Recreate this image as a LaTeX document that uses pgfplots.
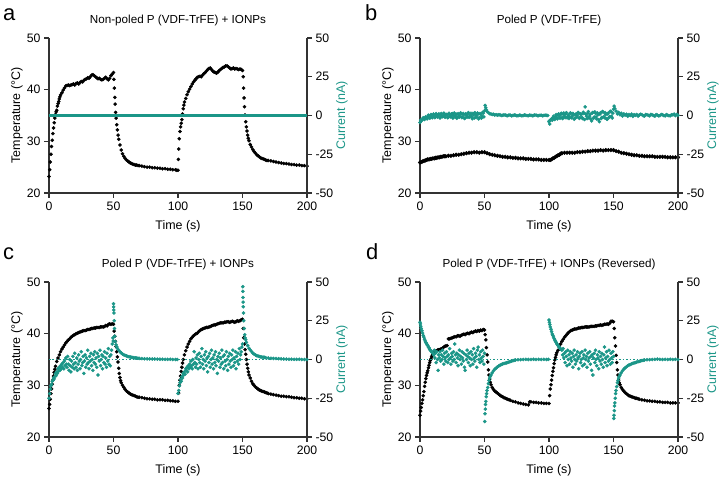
\documentclass[border=0pt]{standalone}
\usepackage{fontspec}
\setmainfont{Liberation Sans}
\usepackage{pgfplots}
\pgfplotsset{compat=1.18}
\definecolor{tl}{RGB}{27,150,136}
\definecolor{axc}{RGB}{50,50,50}
\pgfplotsset{
 base/.style={width=258bp,height=155bp,scale only axis,xmin=0,xmax=200,
  tick align=outside, major tick length=5bp,
  axis line style={axc,line width=1.2bp}, tick style={axc,line width=1.2bp},
  tick label style={font=\fontsize{12.3}{14}\selectfont},
  label style={font=\fontsize{12.5}{14}\selectfont},
  /pgf/number format/assume math mode=true},
 tax/.style={base, ymin=20,ymax=50, axis y line*=left, axis x line*=bottom,
  xtick={0,50,100,150,200}, ytick={20,30,40,50},
  xlabel={Time (s)}, ylabel={Temperature (°C)},
  xlabel style={at={(axis description cs:0.5,-0.213)},anchor=center},
  ylabel style={at={(axis description cs:-0.124,0.5)},anchor=center},
  title style={at={(axis description cs:0.5,1)},anchor=base,yshift=9bp,font=\fontsize{11.7}{13}\selectfont}},
 cax/.style={base, ymin=-50,ymax=50, axis y line*=right, axis x line=none, xtick=\empty,
  ytick={-50,-25,0,25,50}, ylabel={Current (nA)},
  ylabel style={at={(axis description cs:1.135,0.5)},anchor=center,text=tl}},
 tm/.style={only marks, mark=*, mark size=1.6bp, black},
 cm/.style={only marks, mark=*, mark size=1.6bp, tl, mark options={fill=tl,draw=tl}},
}
\begin{document}
\begin{tikzpicture}[x=1bp,y=1bp]
\useasboundingbox (0,0) rectangle (720,477);
\node[anchor=base west,inner sep=0,font=\fontsize{22}{24}\selectfont] at (3,456.3) {a};
\node[anchor=base west,inner sep=0,font=\fontsize{22}{24}\selectfont] at (365,456.3) {b};
\node[anchor=base west,inner sep=0,font=\fontsize{22}{24}\selectfont] at (3,217.3) {c};
\node[anchor=base west,inner sep=0,font=\fontsize{22}{24}\selectfont] at (366,217.3) {d};
% ---------------- panel a ----------------
\begin{axis}[tax, at={(49bp,284bp)}, anchor=south west, title={Non-poled P (VDF-TrFE) + IONPs}]
\addplot[tm] table {
0 23.2
0.5 24.5
1 26.0
1.5 27.5
2 29.0
2.5 30.2
3 31.5
3.5 32.6
4 33.6
4.5 34.5
5 35.2
5.5 35.7
6 36.0
6.5 36.8
7 37.3
7.5 37.7
8 38.2
8.5 38.6
9 39.0
10 39.4
11 39.9
12 40.3
13 40.7
14 40.8
15 40.9
16 40.8
17 40.9
18 41.0
19 41.1
20 40.9
21 41.2
22 41.3
23 41.1
24 41.4
25 41.6
26 41.5
27 41.8
28 42.0
29 42.1
30 42.3
31 42.2
32 42.5
33 42.8
34 42.9
35 42.7
36 42.5
37 42.3
38 42.1
39 42.2
40 42.0
41 41.9
42 42.0
43 42.2
44 42.4
45 42.1
46 41.9
47 42.2
48 42.7
49 43.0
50 43.3
50.3 42.0
50.6 40.3
51 38.5
51.3 37.2
51.6 35.6
52 34.5
52.5 33.2
53 32.2
53.5 31.2
54 30.4
55 29.3
56 28.3
57 27.6
58 27.1
59 26.7
60 26.4
61 26.2
62 26.0
63 25.8
64 25.7
65 25.6
66 25.5
67 25.4
68 25.4
69 25.3
70 25.3
72 25.2
74 25.1
76 25.0
78 25.0
80 24.9
82 24.9
84 24.8
86 24.8
88 24.7
90 24.7
92 24.6
94 24.6
96 24.5
98 24.5
99 24.4
100 24.4
100.3 26.5
100.6 28.5
101 30.5
101.5 31.9
102 32.8
102.5 33.5
103 34.2
103.5 35.3
104 36.3
104.5 37.0
105 37.6
106 38.3
107 39.0
108 39.6
109 40.1
110 40.6
111 41.1
112 41.5
113 41.8
114 42.1
115 42.4
116 42.5
117 42.6
118 42.5
119 42.8
120 43.1
121 43.3
122 43.6
123 43.9
124 44.1
125 44.2
126 43.9
127 43.6
128 43.4
129 43.3
130 43.2
131 43.4
132 43.7
133 43.9
134 44.1
135 44.3
136 44.4
137 44.6
138 44.6
139 44.4
140 44.2
141 44.0
142 44.1
143 44.2
144 44.0
145 44.1
146 44.0
147 43.9
148 44.0
149 43.9
150 43.7
150.5 42.5
150.8 40.3
151.2 38.4
151.5 36.7
152 35.1
152.5 33.8
153 32.8
153.5 32.0
154 31.2
154.5 30.6
155 30.1
156 29.4
157 28.9
158 28.4
159 28.0
160 27.7
161 27.4
162 27.2
163 27.0
164 26.8
165 26.7
166 26.6
167 26.5
168 26.4
169 26.3
170 26.3
172 26.2
174 26.1
176 26.0
178 25.9
180 25.8
182 25.7
184 25.7
186 25.6
188 25.5
190 25.5
192 25.4
194 25.4
196 25.3
198 25.3
200 25.2
};
\end{axis}
\begin{axis}[cax, at={(49bp,284bp)}, anchor=south west]
\addplot[tl, line width=3bp] coordinates {(0,0) (50,0) (100,0) (150,0) (200,0)};
\end{axis}
% ---------------- panel b ----------------
\begin{axis}[tax, at={(420bp,284bp)}, anchor=south west, title={Poled P (VDF-TrFE)}]
\addplot[tm, mark size=1.9bp] table {
0 25.9
1 26.0
2 26.1
3 26.2
4 26.3
5 26.4
6 26.5
7 26.5
8 26.6
9 26.6
10 26.7
11 26.7
12 26.8
13 26.8
14 26.9
15 26.9
16 27.0
17 27.0
18 27.1
19 27.1
20 27.1
22 27.2
24 27.2
26 27.3
28 27.4
30 27.4
32 27.5
34 27.6
36 27.7
38 27.8
40 27.8
42 27.9
44 27.9
46 27.8
48 27.9
50 27.9
52 27.7
54 27.5
56 27.4
58 27.3
60 27.2
62 27.1
64 27.0
66 27.0
68 26.9
70 26.9
72 26.8
74 26.8
76 26.7
78 26.7
80 26.7
82 26.6
84 26.6
86 26.6
88 26.5
90 26.5
92 26.5
94 26.4
96 26.4
98 26.4
100 26.4
101 26.4
102 26.5
103 26.7
104 26.8
105 27.0
106 27.1
107 27.3
108 27.4
109 27.6
110 27.7
112 27.8
114 27.8
116 27.8
118 27.8
120 27.8
122 27.9
124 27.9
126 28.0
128 28.0
130 28.1
132 28.1
134 28.2
136 28.2
138 28.2
140 28.3
142 28.2
144 28.3
146 28.3
148 28.3
150 28.3
152 28.1
154 28.0
156 27.8
158 27.7
160 27.6
162 27.5
164 27.4
166 27.3
168 27.3
170 27.2
172 27.2
174 27.1
176 27.1
178 27.1
180 27.1
182 27.0
184 27.0
186 27.0
188 27.0
190 27.0
192 26.9
194 26.9
196 26.9
198 26.9
200 26.9
};
\end{axis}
\begin{axis}[cax, at={(420bp,284bp)}, anchor=south west]
\addplot[cm] table {
0 -4.5
0.5 -3
1 -3.5
2 -2.5
3 -2
4 -1.8
5 -1.5
6 -1.0
7 -0.5
8 -1.2
9 0.3
10 -0.8
11 0.2
12 -1.0
13 0.5
14 -0.3
15 0.8
16 -0.9
17 0.2
18 -0.5
19 1.0
20 -0.2
21 0.6
22 -1.1
23 0.4
24 -0.6
25 1.2
26 0.0
27 -0.8
28 0.9
29 -1.3
30 0.3
31 -0.4
32 1.1
33 -0.9
34 0.5
35 -1.5
36 0.2
37 0.9
38 -1.2
39 0.4
40 -0.7
41 1.3
42 -1.6
43 0.6
44 -0.3
45 1.0
46 -1.4
47 0.8
48 -0.5
49 1.5
50 3.0
50.5 6.5
51 5.0
51.5 3.5
52 2.5
53 1.8
54 1.2
55 1.0
56 0.6
57 0.8
58 0.3
59 0.5
60 0.2
61 0.5
62 0.4
63 0.0
64 0.1
65 0.4
66 0.3
67 0.0
68 -0.1
69 0.3
70 0.2
71 -0.2
72 0.0
73 0.3
74 0.2
75 -0.1
76 -0.2
77 0.2
78 0.1
79 -0.2
80 0.0
81 0.3
82 0.2
83 -0.1
84 -0.1
85 0.2
86 0.1
87 -0.2
88 0.0
89 0.3
90 0.2
91 -0.1
92 -0.1
93 0.2
94 0.1
95 -0.2
96 0.0
97 0.2
98 0.1
99 0.0
100 -4.0
100.5 -5.5
101 -3.0
102 -2.2
103 -1.5
104 -2.0
105 -0.8
106 -1.5
107 0.3
108 -1.0
109 0.5
110 -1.3
111 0.8
112 -0.6
113 1.0
114 -1.5
115 0.4
116 -0.9
117 1.2
118 -0.4
119 0.7
120 -1.8
121 1.0
122 -0.2
123 1.5
124 -1.2
125 0.6
126 -2.0
127 1.3
128 5.5
129 -0.5
130 1.4
131 -1.6
132 0.8
133 -3.5
134 2.0
135 -1.0
136 1.5
137 -2.2
138 0.5
139 -4.0
140 1.8
141 -1.2
142 2.2
143 -1.5
144 0.6
145 -2.5
146 1.6
147 -0.8
148 2.4
149 -1.6
150 4.0
150.5 6.0
151 4.5
152 2.8
153 1.0
154 2.0
155 0.5
156 1.4
157 -0.3
158 1.0
159 0.2
160 0.8
161 -0.5
162 0.6
163 0.0
164 0.9
165 -0.6
166 0.5
167 0.1
168 0.7
169 -0.4
170 0.3
171 0.8
172 0.6
173 -0.2
174 -0.3
175 0.6
176 0.5
177 0.1
178 -0.2
179 0.7
180 0.4
181 0.0
182 -0.4
183 0.6
184 0.3
185 -0.2
186 -0.1
187 0.7
188 0.5
189 0.0
190 -0.3
191 0.6
192 0.2
193 -0.1
194 -0.2
195 0.5
196 0.4
197 0.9
198 -0.1
199 0.6
200 0.2
};
\addplot[cm] table {
1.5 -2.8
2.5 -1.5
3.5 -2.6
4.5 -0.8
5.5 -2.2
6.5 0.2
7.5 -1.8
8.5 0.6
9.5 -1.5
10.5 1.0
11.5 -1.4
12.5 1.2
13.5 -1.0
14.5 0.9
15.5 -1.6
16.5 1.3
17.5 -0.8
18.5 1.5
19.5 -1.2
20.5 0.7
21.5 -1.5
22.5 1.4
23.5 -0.9
24.5 1.0
25.5 -1.7
26.5 1.6
27.5 -0.3
28.5 -1.8
29.5 1.2
30.5 -1.0
31.5 1.7
32.5 -1.4
33.5 1.3
34.5 -2.0
35.5 1.1
36.5 -1.1
37.5 1.9
38.5 -0.6
39.5 1.4
40.5 -2.1
41.5 0.5
42.5 1.8
43.5 -1.3
44.5 1.6
45.5 -2.2
46.5 1.2
47.5 -1.7
48.5 2.0
49.5 -0.9
100.2 -3.5
101.5 -2.6
102.5 -3.0
103.5 -0.5
104.5 -2.6
105.5 0.6
106.5 -2.2
107.5 1.0
108.5 -1.8
109.5 1.4
110.5 -2.0
111.5 1.6
112.5 -1.4
113.5 1.8
114.5 -0.6
115.5 -2.0
116.5 1.7
117.5 -1.5
118.5 1.3
119.5 -2.4
120.5 0.4
121.5 -1.1
122.5 2.0
123.5 -1.9
124.5 1.1
125.5 -1.3
126.5 2.1
127.5 -2.6
128.5 1.0
129.5 -2.0
130.5 2.5
131.5 -0.4
132.5 -2.3
133.5 1.6
134.5 -1.8
135.5 2.3
136.5 -0.9
137.5 1.7
138.5 -2.7
139.5 0.9
140.5 -1.9
141.5 2.6
142.5 -0.7
143.5 1.9
144.5 -2.0
145.5 1.0
146.5 -1.3
147.5 2.7
148.5 -0.5
149.5 1.5
};
\end{axis}
% ---------------- panel c ----------------
\begin{axis}[tax, at={(49bp,40bp)}, anchor=south west, title={Poled P (VDF-TrFE) + IONPs}]
\addplot[tm] table {
0 25.5
0.5 26.3
1 27.3
1.5 28.4
2 29.3
2.5 30.2
3 31.0
3.5 31.8
4 32.5
4.5 33.1
5 33.7
6 34.6
7 35.3
8 35.9
9 36.5
10 37.0
11 37.4
12 37.8
13 38.2
14 38.5
15 38.8
16 39.0
17 39.3
18 39.5
19 39.7
20 39.8
21 40.0
22 40.1
23 40.2
24 40.3
25 40.4
26 40.5
27 40.6
28 40.6
29 40.7
30 40.8
31 40.8
32 40.9
33 41.0
34 41.0
35 41.1
36 41.1
37 41.2
38 41.2
39 41.2
40 41.3
41 41.3
42 41.3
43 41.4
44 41.6
45 41.5
46 41.8
47 41.9
48 41.8
49 41.9
50 41.8
50.5 40.5
51 39.5
51.5 38.5
52 37.5
52.5 36.5
53 35.5
53.5 34.5
54 33.3
54.5 32.3
55 31.5
55.5 30.9
56 30.5
57 30.0
58 29.6
59 29.2
60 28.9
61 28.7
62 28.5
63 28.3
64 28.2
65 28.1
66 28.0
67 27.9
68 27.8
69 27.7
70 27.7
72 27.6
74 27.5
76 27.4
78 27.4
80 27.3
82 27.3
84 27.2
86 27.2
88 27.2
90 27.1
92 27.1
94 27.0
96 27.0
98 26.9
100 26.9
100.5 28.5
101 30.0
101.5 31.0
102 31.8
102.5 32.7
103 33.5
103.5 34.3
104 35.0
105 35.9
106 36.7
107 37.4
108 38.0
109 38.5
110 39.0
111 39.3
112 39.6
113 39.8
114 40.0
115 40.1
116 40.4
117 40.6
118 40.8
119 40.9
120 41.0
121 41.1
122 41.2
123 41.2
124 41.3
125 41.4
126 41.5
127 41.6
128 41.7
129 41.7
130 41.8
131 41.9
132 42.0
133 42.1
134 42.1
135 42.1
136 42.2
137 42.2
138 42.3
139 42.3
140 42.2
141 42.3
142 42.4
143 42.3
144 42.2
145 42.3
146 42.5
147 42.4
148 42.5
149 42.7
150 42.8
150.5 41.0
151 39.2
151.5 38.0
152 36.9
152.5 36.0
153 35.0
153.5 34.1
154 33.3
154.5 32.6
155 32.0
156 31.4
157 30.8
158 30.3
159 30.0
160 29.7
161 29.5
162 29.3
163 29.1
164 29.0
165 28.9
166 28.8
167 28.7
168 28.6
169 28.5
170 28.4
172 28.3
174 28.2
176 28.1
178 28.0
180 27.9
182 27.9
184 27.8
186 27.8
188 27.7
190 27.6
192 27.6
194 27.5
196 27.5
198 27.4
200 27.4
};
\end{axis}
\begin{axis}[cax, at={(49bp,40bp)}, anchor=south west]
\addplot[tl, dotted, line width=1.5bp] coordinates {(0,0) (200,0)};
\addplot[cm] table {
0 -25
0.5 -22
1 -19
1.5 -17
2 -16
2.5 -14
3 -13.5
3.5 -12
4 -12.5
4.5 -11
5 -9
5.5 -10.5
6 -8
6.5 -9
7 -6
7.5 -7.5
8 -5
8.5 -7
9 -4
9.5 -6
10 -3
10.5 -5
11 -2
11.5 -6
12 -1
12.5 -4
13 1
13.5 -3
14 -5
14.5 2
15 -3
15.5 -7
16 0
16.5 -4
17 -8
17.5 -1
18 -5
18.5 2
19 -3
19.5 -6
20 4
20.5 -2
21 -5
21.5 1
22 -7
22.5 -3
23 3
23.5 -1
24 -6
24.5 0
25 5
25.5 -4
26 -2
26.5 2
27 -9
27.5 -1
28 3
28.5 -5
29 1
29.5 -3
30 6
30.5 -2
31 -6
31.5 2
32 -1
32.5 4
33 -4
33.5 0
34 -7
34.5 3
35 -2
35.5 5
36 -3
36.5 1
37 -5
37.5 4
38 -10
38.5 2
39 -1
39.5 6
40 -4
40.5 0
41 3
41.5 -6
42 2
42.5 -2
43 5
43.5 -3
44 1
44.5 -5
45 4
45.5 -1
46 7
46.5 -3
47 2
47.5 -4
48 3
48.5 6
49 10
49.5 14
49.8 12
50 36
50.1 34
50.2 32
50.3 30
50.5 25
50.7 20
51 15
51.4 11.6
52 9.5
52.5 8.2
53 7.2
54 6.0
55 5.0
56 4.2
57 3.5
58 3.0
59 2.6
60 2.3
61 2.0
62 1.8
63 1.6
64 1.4
65 1.3
66 1.1
67 1.0
68 0.9
69 0.8
70 0.7
72 0.6
74 0.5
76 0.4
78 0.4
80 0.3
82 0.3
84 0.2
86 0.2
88 0.2
90 0.1
92 0.1
94 0.1
96 0.0
98 0.0
99.5 0.0
100 -22
100.5 -20
101 -17
101.5 -15
102 -13
102.5 -14
103 -11
103.5 -12
104 -9
104.5 -10
105 -8
105.5 -9.5
106 -6
106.5 -7
107 -5
107.5 -8
108 -4
108.5 -6
109 -3
109.5 -5
110 -1
110.5 -4
111 -6
111.5 0
112 -3
112.5 5
113 -2
113.5 -5
114 1
114.5 -3
115 3
115.5 -6
116 0
116.5 4
117 -2
117.5 -5
118 2
118.5 7
119 -3
119.5 0
120 -6
120.5 3
121 -1
121.5 5
122 -4
122.5 1
123 -8
123.5 2
124 -2
124.5 4
125 -5
125.5 0
126 6
126.5 -3
127 1
127.5 -6
128 3
128.5 -2
129 5
129.5 -4
130 0
130.5 -9
131 2
131.5 -1
132 4
132.5 -5
133 1
133.5 -3
134 6
134.5 -2
135 2
135.5 -6
136 3
136.5 -1
137 -4
137.5 5
138 0
138.5 -7
139 2
139.5 -3
140 4
140.5 -1
141 -5
141.5 3
142 0
142.5 6
143 -4
143.5 1
144 -2
144.5 5
145 -6
145.5 2
146 -1
146.5 4
147 -3
147.5 7
148 0
148.5 3
149 5
149.5 8
150 10
150.2 47
150.3 44
150.4 40
150.5 37
150.6 34
150.8 30
151 25
151.3 20
151.7 16
152 14
152.5 12.7
153 11
154 9
155 7.3
156 6.2
157 5.2
158 4.2
159 3.4
160 2.9
161 2.5
162 2.2
163 1.9
164 1.7
165 1.6
166 1.5
167 1.4
168 1.2
170 1.0
172 0.8
174 0.7
176 0.6
178 0.5
180 0.4
182 0.3
184 0.3
186 0.2
188 0.2
190 0.1
192 0.1
194 0.1
196 0.0
198 0.0
200 0.0
};
\end{axis}
% ---------------- panel d ----------------
\begin{axis}[tax, at={(420bp,40bp)}, anchor=south west, title={Poled P (VDF-TrFE) + IONPs (Reversed)}]
\addplot[tm] table {
0 24.2
0.5 25.0
1 25.7
1.5 26.5
2 27.2
2.5 28.0
3 28.8
3.5 29.8
4 30.6
4.5 31.3
5 31.9
5.5 32.4
6 32.8
6.5 33.4
7 33.9
7.5 34.4
8 34.8
8.5 35.1
9 35.5
9.5 35.8
10 36.1
11 36.4
12 36.6
13 36.7
14 36.9
15 36.9
16 37.0
17 37.1
18 37.3
19 37.5
20 37.6
21 37.7
22 39.0
23 39.0
24 39.1
25 39.2
26 39.3
27 39.4
28 39.4
29 39.6
30 39.6
31 39.5
32 39.7
33 39.8
34 39.9
35 39.8
36 40.0
37 40.1
38 40.0
39 40.2
40 40.3
41 40.2
42 40.4
43 40.5
44 40.4
45 40.6
46 40.5
47 40.7
48 40.6
49 40.8
50 40.7
50.5 39.8
51 38.8
51.5 37.3
52 35.9
52.5 34.5
53 33.0
53.5 32.0
54 31.2
54.5 30.6
55 30.1
56 29.6
57 29.2
58 28.9
59 28.7
60 28.5
61 28.3
62 28.1
63 27.9
64 27.8
65 27.6
66 27.5
67 27.4
68 27.3
69 27.2
70 27.1
72 26.9
74 26.8
76 26.6
78 26.5
80 26.4
82 26.3
84 26.2
85 26.8
86 26.8
88 26.7
90 26.7
92 26.6
94 26.6
96 26.5
98 26.5
100 26.5
100.5 28.0
101 29.3
101.5 30.1
102 31.0
102.5 31.9
103 32.7
103.5 33.4
104 34.2
104.5 34.9
105 35.4
105.5 35.9
106 36.3
107 36.8
108 37.4
109 38.0
110 38.5
111 38.9
112 39.3
113 39.6
114 39.9
115 40.2
116 40.4
117 40.6
118 40.7
119 40.8
120 40.9
121 40.9
122 41.0
123 41.1
124 41.1
125 41.2
126 41.2
127 41.2
128 41.3
129 41.3
130 41.3
131 41.3
132 41.4
133 41.4
134 41.4
135 41.4
136 41.5
137 41.5
138 41.6
139 41.6
140 41.7
141 41.6
142 41.7
143 41.8
144 41.8
145 41.9
146 41.8
147 42.0
148 42.4
149 42.4
150 42.3
150.5 41.0
151 39.2
151.5 37.6
152 35.8
152.5 34.4
153 33.0
153.5 32.0
154 31.0
154.5 30.5
155 30.1
156 29.6
157 29.2
158 28.9
159 28.6
160 28.4
161 28.2
162 28.0
163 27.9
164 27.8
165 27.7
166 27.6
167 27.5
168 27.5
169 27.4
170 27.3
172 27.2
174 27.1
176 27.0
178 27.0
180 26.9
182 26.9
184 26.8
186 26.8
188 26.7
190 26.7
192 26.7
194 26.6
196 26.6
198 26.6
200 26.6
};
\end{axis}
\begin{axis}[cax, at={(420bp,40bp)}, anchor=south west]
\addplot[tl, dotted, line width=1.5bp] coordinates {(0,0) (200,0)};
\addplot[cm] table {
0 24
0.3 23
0.6 21.5
1 20
1.5 18.5
2 17
2.5 15.5
3 14.5
3.5 13
4 12
4.5 11
5 10.5
5.5 9.5
6 9
6.5 8
7 7.5
7.5 6.5
8 6
8.5 5.5
9 5
9.5 4.5
10 4
10.5 3
11 6
11.5 1
12 4
12.5 -2
13 5
13.5 0
14 -7
14.5 3
15 1
15.5 5
16 -1
16.5 3
17 0
17.5 6
18 2
18.5 -3
19 4
19.5 1
20 -1
20.5 5
21 2
21.5 -2
22 3
22.5 0
23 7
23.5 1
24 -3
24.5 4
25 2
25.5 -1
26 5
26.5 0
27 10
27.5 3
28 -2
28.5 4
29 1
29.5 -4
30 3
30.5 6
31 0
31.5 2
32 -3
32.5 5
33 1
33.5 -1
34 4
34.5 -5
35 -7
35.5 3
36 0
36.5 6
37 2
37.5 -2
38 4
38.5 1
39 -4
39.5 5
40 0
40.5 3
41 -3
41.5 7
42 1
42.5 -1
43 4
43.5 2
44 -5
44.5 6
45 8
45.5 0
46 3
46.5 -2
47 5
47.5 1
48 -1
48.5 6
49 2
49.5 -3
50 4
50.2 -40
50.4 -35
50.6 -32
50.8 -29
51 -27
51.3 -24
51.6 -22
52 -20
52.5 -18
53 -15.5
53.5 -13.5
54 -12
54.5 -11
55 -10
56 -8.5
57 -7.2
58 -6.2
59 -5.5
60 -4.8
61 -4.2
62 -3.7
63 -3.2
64 -2.9
65 -2.6
66 -2.4
67 -2.2
68 -1.9
69 -1.6
70 -1.3
71 -1.0
72 -0.8
73 -0.5
74 -0.3
76 -0.2
78 -0.1
80 0.0
82 0.1
84 0.0
86 0.0
88 0.1
90 0.0
92 0.1
94 0.0
96 0.1
98 0.0
99.5 0.1
100 25.5
100.3 24
100.6 22.5
101 21
101.5 19.5
102 18
102.5 16.5
103 15.5
103.5 14.5
104 13.5
104.5 12.5
105 11.8
105.5 11
106 10.2
106.5 9.6
107 9
107.5 8.4
108 7.8
108.5 7.2
109 6.8
109.5 6.4
110 6
110.5 3
111 7
111.5 1
112 4
112.5 -2
113 5
113.5 2
114 -4
114.5 6
115 0
115.5 3
116 -3
116.5 5
117 1
117.5 -1
118 4
118.5 -5
119 2
119.5 6
120 0
120.5 -3
121 3
121.5 -1
122 5
122.5 1
123 -6
123.5 2
124 4
124.5 -2
125 0
125.5 5
126 -4
126.5 1
127 3
127.5 -3
128 6
128.5 0
129 2
129.5 -5
130 4
130.5 -1
131 1
131.5 5
132 -3
132.5 2
133 -7
133.5 3
134 -10
134.5 1
135 4
135.5 -2
136 6
136.5 0
137 -4
137.5 3
138 1
138.5 -6
139 5
139.5 -1
140 2
140.5 -3
141 4
141.5 0
142 -5
142.5 3
143 8
143.5 -2
144 1
144.5 5
145 -4
145.5 2
146 -1
146.5 6
147 0
147.5 -3
148 4
148.5 1
149 -2
149.5 5
150 2
150.2 -38
150.4 -36
150.6 -33
150.8 -30
151 -28
151.3 -25
151.6 -22
152 -20
152.5 -17.5
153 -15
153.5 -13.5
154 -12
154.5 -11
155 -10
156 -8.5
157 -7.2
158 -6.2
159 -5.4
160 -4.7
161 -4.1
162 -3.6
163 -3.2
164 -2.8
165 -2.5
166 -2.2
167 -2.0
168 -1.7
169 -1.4
170 -1.2
171 -0.9
172 -0.7
173 -0.5
174 -0.3
176 -0.2
178 -0.1
180 0.0
182 0.1
184 0.3
186 0.1
188 0.0
190 0.1
192 0.0
194 0.1
196 0.0
198 0.1
200 0.0
};
\end{axis}
\end{tikzpicture}
\end{document}
